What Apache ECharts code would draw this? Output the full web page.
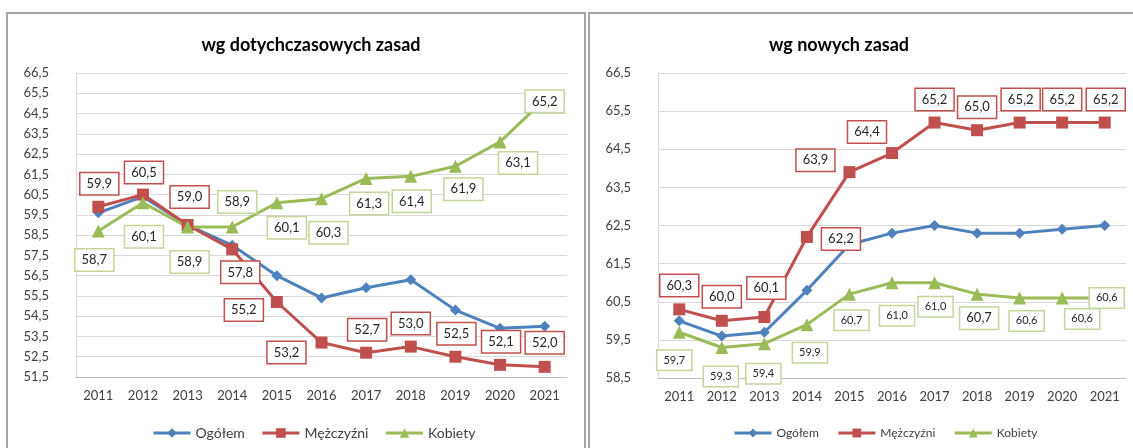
<!DOCTYPE html>
<html>
<head>
<meta charset="utf-8">
<title>wg dotychczasowych / nowych zasad</title>
<script src="https://cdn.jsdelivr.net/npm/echarts@6/dist/echarts.min.js"></script>
<style>
	html, body { margin: 0; padding: 0; background: #fff; }
	#main { width: 1133px; height: 448px; }
</style>
</head>
<body>
<div id="main"></div>
<script>
	// dane
	var years = ['2011', '2012', '2013', '2014', '2015', '2016', '2017', '2018', '2019', '2020', '2021'];
	var seriesNames = ['Ogółem', 'Mężczyźni', 'Kobiety'];

	// wg dotychczasowych zasad
	var oldTotal = [59.6, 60.4, 59.0, 58.0, 56.5, 55.4, 55.9, 56.3, 54.8, 53.9, 54.0];
	var oldMen = [59.9, 60.5, 59.0, 57.8, 55.2, 53.2, 52.7, 53.0, 52.5, 52.1, 52.0];
	var oldWomen = [58.7, 60.1, 58.9, 58.9, 60.1, 60.3, 61.3, 61.4, 61.9, 63.1, 65.2];

	// wg nowych zasad
	var newTotal = [60.0, 59.6, 59.7, 60.8, 62.0, 62.3, 62.5, 62.3, 62.3, 62.4, 62.5];
	var newMen = [60.3, 60.0, 60.1, 62.2, 63.9, 64.4, 65.2, 65.0, 65.2, 65.2, 65.2];
	var newWomen = [59.7, 59.3, 59.4, 59.9, 60.7, 61.0, 61.0, 60.7, 60.6, 60.6, 60.6];

	// przesunięcia etykiet (px) względem punktu
	var oldMenOff = [[1, -23], [1, -22], [2, -28], [8, 23], [-33, 8], [-35, 10], [1, -23], [0, -23], [1, -23], [1, -23], [0, -24]];
	var oldWomenOff = [[-4, 29], [1, 34], [2, 35], [5, -25], [10, 25], [7, 34], [3, 25], [1, 25], [8, 23], [18, 21], [0, 2]];
	var newMenOff = [[0, -24], [0, -24], [2, -29], [34, 2], [-34, -12], [-25, -21], [0, -23], [0, -23], [1, -23], [0, -23], [1, -23]];
	var newWomenOff = [[-5, 28], [-1, 29], [-1, 30], [3, 28], [2, 26], [5, 33], [1, 24], [2, 24], [7, 23], [20, 21], [2, 0]];
	var newWomenFont = [11, 11, 11, 11, 11, 11, 11, 13, 11, 11, 11];

	var FONT = 'Lato, "Open Sans", sans-serif';
	var BLUE = '#4f81bd', RED = '#c0504d', GREEN = '#9bbb59';

	function fmt(v) {
		return Number(v).toFixed(1).replace('.', ',');
	}

	function withLabels(values, offsets, border, sizes) {
		return values.map(function (v, i) {
			return {
				value: v,
				label: {
					offset: offsets[i],
					fontSize: sizes ? sizes[i] : 13,
					borderColor: border
				}
			};
		});
	}

	var labelBase = {
		show: true,
		position: 'inside',
		formatter: function (p) { return fmt(p.value); },
		color: '#262626',
		fontFamily: FONT,
		fontSize: 13,
		backgroundColor: '#fff',
		borderWidth: 1.5,
		padding: [4, 6, 4, 6]
	};

	function lineSeries(name, idx, color, symbol, size, data, labelled) {
		return {
			name: name,
			type: 'line',
			xAxisIndex: idx,
			yAxisIndex: idx,
			data: data,
			color: color,
			symbol: symbol,
			symbolSize: size,
			lineStyle: { width: 3, color: color },
			itemStyle: { color: color },
			label: labelled ? labelBase : { show: false },
			emphasis: { disabled: true },
			animation: false
		};
	}

	function xAxisFor(idx) {
		return {
			type: 'category',
			gridIndex: idx,
			data: years,
			boundaryGap: true,
			axisTick: { show: false },
			axisLine: { lineStyle: { color: '#bfbfbf', width: 1 } },
			axisLabel: { color: '#404040', fontFamily: FONT, fontSize: 13, margin: 12 }
		};
	}

	function yAxisFor(idx, min) {
		return {
			type: 'value',
			gridIndex: idx,
			min: min,
			max: 66.5,
			interval: 1,
			axisLine: { show: true, lineStyle: { color: '#d9d9d9' } },
			axisTick: { show: false },
			splitLine: { lineStyle: { color: '#d9d9d9', width: 1 } },
			axisLabel: { color: '#404040', fontFamily: FONT, fontSize: 13, margin: 27, formatter: fmt }
		};
	}

	var chart = echarts.init(document.getElementById('main'));
	var option = {
		backgroundColor: '#fff',
		animation: false,
		graphic: [
			{ type: 'rect', shape: { x: 7, y: 13, width: 578, height: 460 }, style: { fill: 'none', stroke: '#a6a6a6', lineWidth: 2 }, z: -1 },
			{ type: 'rect', shape: { x: 589, y: 13, width: 560, height: 460 }, style: { fill: 'none', stroke: '#a6a6a6', lineWidth: 2 }, z: -1 }
		],
		title: [
			{ text: 'wg dotychczasowych zasad', left: 306, top: 31, textAlign: 'center',
				textStyle: { fontFamily: FONT, fontSize: 18, fontWeight: 'bold', color: '#000' } },
			{ text: 'wg nowych zasad', left: 834, top: 31, textAlign: 'center',
				textStyle: { fontFamily: FONT, fontSize: 18, fontWeight: 'bold', color: '#000' } }
		],
		legend: [
			{ data: seriesNames, left: 147, top: 421, itemWidth: 37, itemHeight: 12, itemGap: 16,
				lineStyle: { width: 3 },
				textStyle: { fontFamily: FONT, fontSize: 14, color: '#404040' } },
			{ data: seriesNames, left: 728, top: 422, itemWidth: 37, itemHeight: 11, itemGap: 18,
				lineStyle: { width: 3 },
				textStyle: { fontFamily: FONT, fontSize: 12, color: '#404040' } }
		],
		grid: [
			{ left: 76, right: 566, top: 73, bottom: 71 },
			{ left: 658, right: 7, top: 73, bottom: 70 }
		],
		xAxis: [xAxisFor(0), xAxisFor(1)],
		yAxis: [yAxisFor(0, 51.5), yAxisFor(1, 58.5)],
		series: [
			lineSeries('Ogółem', 0, BLUE, 'diamond', 11, oldTotal, false),
			lineSeries('Mężczyźni', 0, RED, 'rect', 12, withLabels(oldMen, oldMenOff, RED), true),
			lineSeries('Kobiety', 0, GREEN, 'triangle', 13, withLabels(oldWomen, oldWomenOff, '#c3d69b'), true),
			lineSeries('Ogółem', 1, BLUE, 'diamond', 11, newTotal, false),
			lineSeries('Mężczyźni', 1, RED, 'rect', 12, withLabels(newMen, newMenOff, RED), true),
			lineSeries('Kobiety', 1, GREEN, 'triangle', 13, withLabels(newWomen, newWomenOff, '#c3d69b', newWomenFont), true)
		]
	};
	chart.setOption(option);
</script>
</body>
</html>
